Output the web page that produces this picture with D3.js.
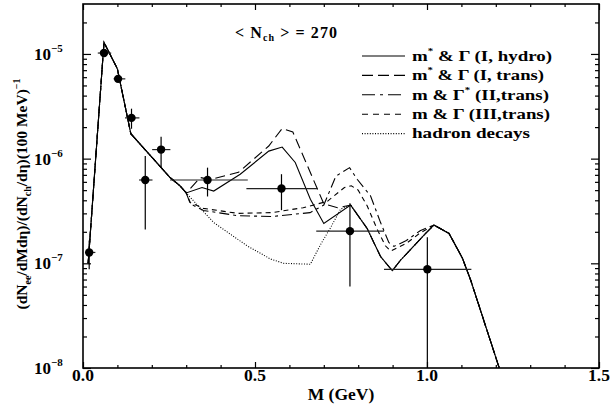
<!DOCTYPE html>
<html lang="en">
<head>
<meta charset="UTF-8">
<title>Dielectron mass spectrum</title>
<script src="https://d3js.org/d3.v7.min.js"></script>
<style>
    body { margin: 0; background: #fff; }
    svg text { font-family: "Liberation Serif", "Times New Roman", serif; font-weight: bold; fill: #000; }
</style>
</head>
<body>
<div id="chart"></div>
<script>
    // ---- data ----
    // shared pieces of the calculated spectra (M in GeV, yield)
    const sharedLow = [[0.015,1.0e-7],[0.061,1.29e-5],[0.100,7.2e-6],[0.139,1.73e-6],[0.253,6.6e-7],[0.282,5.5e-7],[0.300,4.7e-7]];
    const sharedRho = [[0.778,3.6e-7],[0.826,2.15e-7],[0.865,1.16e-7],[0.899,8.5e-8],[0.923,1.07e-7],[0.996,1.93e-7]];
    const sharedPhi = [[1.020,2.32e-7],[1.064,1.93e-7],[1.103,1.12e-7],[1.127,6.9e-8],[1.210,1.0e-8]];

    const hydroMid = [[0.346,5.3e-7],[0.380,4.9e-7],[0.457,7.1e-7],[0.540,1.18e-6],[0.579,1.29e-6],[0.617,9.2e-7],[0.661,4.1e-7],[0.700,2.4e-7]];
    const transMid = [[0.341,6.6e-7],[0.370,6.3e-7],[0.452,7.4e-7],[0.540,1.32e-6],[0.579,1.94e-6],[0.610,1.8e-6],[0.700,3.7e-7],[0.740,3.4e-7]];
    const widthMid = [[0.312,3.7e-7],[0.350,3.2e-7],[0.450,2.85e-7],[0.550,2.8e-7],[0.660,3.05e-7],[0.700,3.6e-7],[0.735,6.8e-7],[0.775,8.2e-7],[0.797,6.35e-7],[0.836,4.4e-7],[0.865,2.45e-7],[0.889,1.58e-7],[0.904,1.45e-7],[0.940,1.65e-7],[0.980,2.05e-7]];
    const massMid = [[0.312,3.8e-7],[0.350,3.35e-7],[0.450,3.0e-7],[0.550,3.05e-7],[0.640,3.4e-7],[0.710,3.9e-7],[0.760,5.3e-7],[0.780,5.5e-7],[0.800,5.0e-7],[0.826,3.54e-7],[0.855,2.12e-7],[0.879,1.47e-7],[0.894,1.31e-7],[0.940,1.55e-7],[0.980,1.95e-7]];
    const hadronMid = [[0.380,2.45e-7],[0.477,1.47e-7],[0.545,1.1e-7],[0.583,1.0e-7],[0.661,9.8e-8],[0.690,1.5e-7],[0.720,2.2e-7],[0.749,3.3e-7]];

    // measured points
    const dataM    = [0.018, 0.061, 0.102, 0.141, 0.227, 0.181, 0.362, 0.577, 0.776, 1.001];
    const dataVal  = [1.27e-7, 1.02e-5, 5.78e-6, 2.45e-6, 1.22e-6, 6.25e-7, 6.25e-7, 5.18e-7, 2.03e-7, 8.77e-8];
    const dataMlo  = [0.008, 0.043, 0.089, 0.122, 0.201, 0.163, 0.253, 0.475, 0.678, 0.875];
    const dataMhi  = [0.036, 0.082, 0.123, 0.164, 0.254, 0.202, 0.479, 0.681, 0.875, 1.129];
    const dataLo   = [0.88e-7, 0.95e-5, 5.4e-6, 1.93e-6, 0.82e-6, 2.1e-7, 4.35e-7, 3.22e-7, 6.0e-8, 1.0e-8];
    const dataHi   = [1.65e-7, 1.1e-5, 6.2e-6, 3.0e-6, 1.62e-6, 1.06e-6, 8.2e-7, 7.1e-7, 3.75e-7, 1.77e-7];

    const xMajor = [0, 0.5, 1.0, 1.5];
    const xLabels = ["0.0", "0.5", "1.0", "1.5"];
    const xMinor = [0.1,0.2,0.3,0.4,0.6,0.7,0.8,0.9,1.1,1.2,1.3,1.4];
    const yMajor = [1e-8, 1e-7, 1e-6, 1e-5];
    const yExps = ["\u22128", "\u22127", "\u22126", "\u22125"];

    const series = [
        {name: "hydro",  points: sharedLow.concat(hydroMid, sharedRho, sharedPhi), dash: null},
        {name: "trans",  points: sharedLow.concat(transMid, sharedRho, sharedPhi), dash: "10,5"},
        {name: "II",     points: sharedLow.concat(widthMid, sharedPhi), dash: "10,4,3,4"},
        {name: "III",    points: sharedLow.concat(massMid, sharedPhi), dash: "5,4"},
        {name: "hadron", points: sharedLow.concat(hadronMid, sharedRho, sharedPhi), dash: "1,1.6"}
    ];

    // ---- layout ----
    const W = 610, H = 413;
    const pLeft = 83, pRight = 599, pTop = 4, pBottom = 368;

    const x = d3.scaleLinear().domain([0, 1.5]).range([pLeft, pRight]);
    const y = d3.scaleLog().domain([1e-8, 3e-5]).range([pBottom, pTop]);

    const yMinor = [];
    [1e-8, 1e-7, 1e-6, 1e-5].forEach(d => {
        for (let k = 2; k <= 9; k++) {
            if (k * d < 3e-5) yMinor.push(k * d);
        }
    });

    const svg = d3.select("#chart").append("svg")
        .attr("width", W).attr("height", H);

    svg.append("clipPath").attr("id", "plotclip")
        .append("rect").attr("x", pLeft).attr("y", pTop)
        .attr("width", pRight - pLeft).attr("height", pBottom - pTop);

    // ticks (inward on all four sides)
    function ticks(axisFn, pos, vals, size) {
        svg.append("g")
            .attr("transform", pos)
            .call(axisFn.tickValues(vals).tickSize(size).tickFormat(""))
            .call(g => g.select(".domain").remove())
            .call(g => g.selectAll("line").attr("stroke", "#000").attr("stroke-width", 1.2));
    }
    ticks(d3.axisBottom(x), `translate(0,${pBottom})`, xMinor, -3);
    ticks(d3.axisBottom(x), `translate(0,${pBottom})`, xMajor, -6);
    ticks(d3.axisTop(x), `translate(0,${pTop})`, xMinor, -3);
    ticks(d3.axisTop(x), `translate(0,${pTop})`, xMajor, -6);
    ticks(d3.axisLeft(y), `translate(${pLeft},0)`, yMinor, -4);
    ticks(d3.axisLeft(y), `translate(${pLeft},0)`, yMajor, -8);
    ticks(d3.axisRight(y), `translate(${pRight},0)`, yMinor, -4);
    ticks(d3.axisRight(y), `translate(${pRight},0)`, yMajor, -8);

    // frame
    svg.append("rect")
        .attr("x", pLeft).attr("y", pTop)
        .attr("width", pRight - pLeft).attr("height", pBottom - pTop)
        .attr("fill", "none").attr("stroke", "#000").attr("stroke-width", 1.6);

    // tick labels
    svg.selectAll("text.xlab")
        .data(xMajor)
        .join("text")
        .attr("class", "xlab")
        .attr("x", d => x(d))
        .attr("y", 381)
        .attr("text-anchor", "middle")
        .attr("font-size", 17.5)
        .text((d, i) => xLabels[i]);

    yMajor.forEach((d, i) => {
        const t = svg.append("text")
            .attr("x", 34)
            .attr("y", y(d) + 6)
            .attr("font-size", 17);
        t.append("tspan").text("10");
        t.append("tspan").attr("dy", -8).attr("font-size", 11).text(yExps[i]);
    });

    // axis titles
    svg.append("text")
        .attr("x", x(0.75)).attr("y", 400)
        .attr("text-anchor", "middle")
        .attr("font-size", 17.5)
        .text("M (GeV)");

    const yt = svg.append("text")
        .attr("transform", `translate(27,${(pTop + pBottom) / 2 + 8}) rotate(-90)`)
        .attr("text-anchor", "middle")
        .attr("font-size", 15.5);
    yt.append("tspan").text("(dN");
    yt.append("tspan").attr("dy", 4).attr("font-size", 10).text("ee");
    yt.append("tspan").attr("dy", -4).text("/dMd\u03B7)/(dN");
    yt.append("tspan").attr("dy", 4).attr("font-size", 10).text("ch");
    yt.append("tspan").attr("dy", -4).text("/d\u03B7)(100 MeV)");
    yt.append("tspan").attr("dy", -7).attr("font-size", 10).text("\u22121");

    // multiplicity label
    const nt = svg.append("text")
        .attr("x", 235).attr("y", 38)
        .attr("font-size", 16)
        .attr("textLength", 102).attr("lengthAdjust", "spacing");
    nt.append("tspan").text("< N");
    nt.append("tspan").attr("dy", 3).attr("font-size", 10).text("ch");
    nt.append("tspan").attr("dy", -3).text(" > = 270");

    // curves
    const line = d3.line()
        .x(d => x(d[0]))
        .y(d => y(d[1]));

    const plot = svg.append("g").attr("clip-path", "url(#plotclip)");

    plot.selectAll("path.curve")
        .data(series)
        .join("path")
        .attr("class", "curve")
        .attr("fill", "none")
        .attr("stroke", "#000")
        .attr("stroke-width", 1.1)
        .attr("stroke-dasharray", d => d.dash)
        .attr("d", d => line(d.points));

    // data points with error bars
    const idx = d3.range(dataM.length);
    plot.selectAll("line.xerr")
        .data(idx)
        .join("line")
        .attr("class", "xerr")
        .attr("x1", i => x(dataMlo[i])).attr("x2", i => x(dataMhi[i]))
        .attr("y1", i => y(dataVal[i])).attr("y2", i => y(dataVal[i]))
        .attr("stroke", "#222").attr("stroke-width", 1.2);
    plot.selectAll("line.yerr")
        .data(idx)
        .join("line")
        .attr("class", "yerr")
        .attr("x1", i => x(dataM[i])).attr("x2", i => x(dataM[i]))
        .attr("y1", i => y(dataLo[i])).attr("y2", i => y(dataHi[i]))
        .attr("stroke", "#000").attr("stroke-width", 1.2);
    plot.selectAll("circle.pt")
        .data(idx)
        .join("circle")
        .attr("class", "pt")
        .attr("cx", i => x(dataM[i]))
        .attr("cy", i => y(dataVal[i]))
        .attr("r", 4.2)
        .attr("fill", "#000");

    // legend
    const legendRows = [
        {parts: [["m", 0], ["*", 1], [" & \u0393 (I, hydro)", 0]], dash: null, width: 140},
        {parts: [["m", 0], ["*", 1], [" & \u0393 (I, trans)", 0]], dash: "11,5", width: 132},
        {parts: [["m & \u0393", 0], ["*", 1], [" (II,trans)", 0]], dash: "13,5,3,5", width: 137},
        {parts: [["m & \u0393 (III,trans)", 0]], dash: "6,5", width: 138},
        {parts: [["hadron decays", 0]], dash: "1,1.6", width: 118}
    ];

    const legend = svg.append("g");
    legendRows.forEach((r, i) => {
        const base = 60.7 + i * 19.4;
        legend.append("line")
            .attr("x1", 362).attr("x2", 405)
            .attr("y1", base - 4.7).attr("y2", base - 4.7)
            .attr("stroke", "#000").attr("stroke-width", 1.1)
            .attr("stroke-dasharray", r.dash);
        const t = legend.append("text")
            .attr("x", 412).attr("y", base)
            .attr("font-size", 15.5)
            .attr("textLength", r.width)
            .attr("lengthAdjust", "spacingAndGlyphs");
        let up = 0;
        r.parts.forEach(p => {
            const ts = t.append("tspan").text(p[0]);
            if (p[1] === 1) { ts.attr("dy", -7).attr("font-size", 9); up = 1; }
            else if (up) { ts.attr("dy", 7); up = 0; }
        });
    });
</script>
</body>
</html>
